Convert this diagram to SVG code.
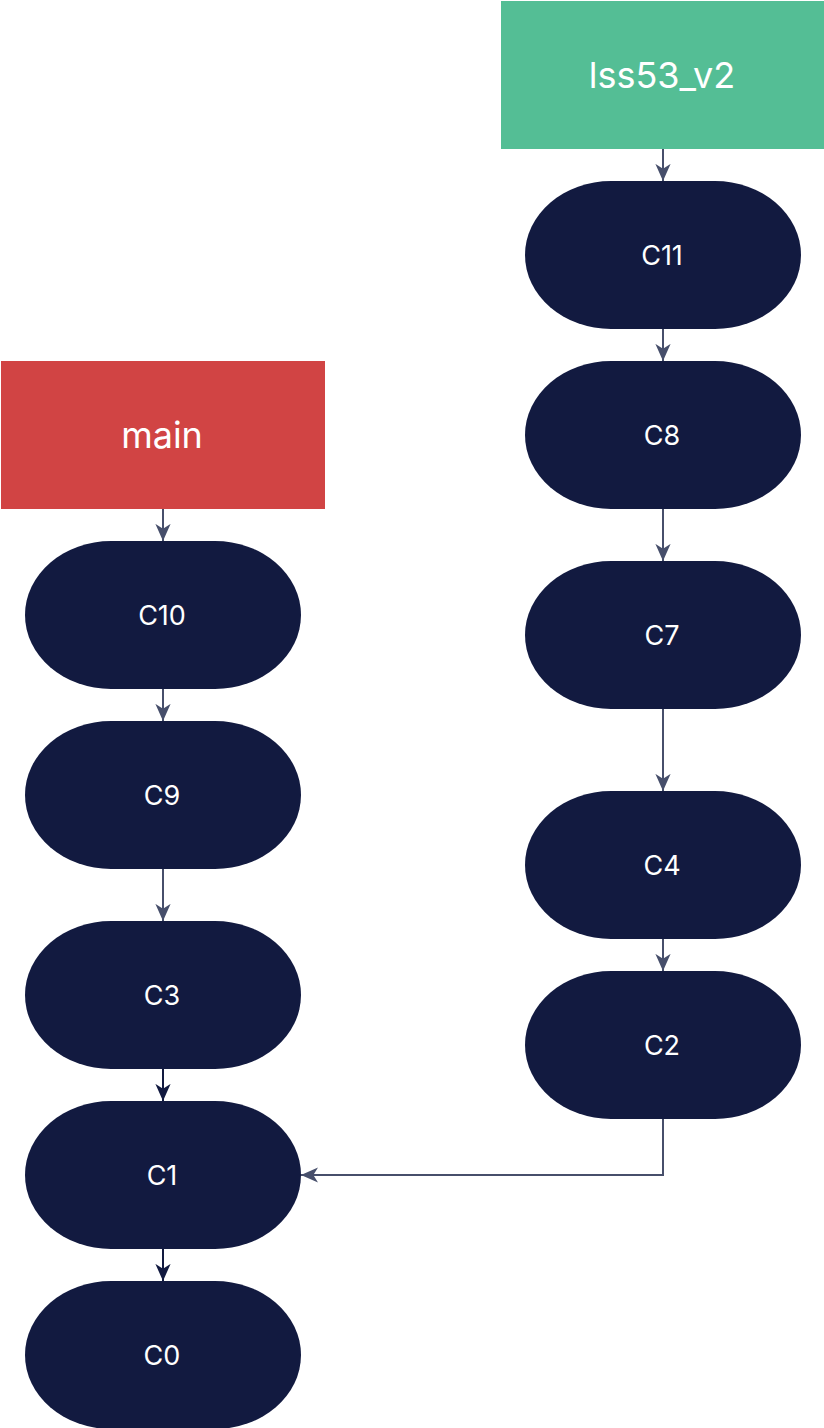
<svg xmlns="http://www.w3.org/2000/svg" width="824" height="1428" viewBox="0 0 824 1428">
<style>
.n{fill:#121a40}
.t{font-family:Inter,"Liberation Sans",sans-serif;font-size:27px;fill:#ffffff;text-anchor:middle;dominant-baseline:central}
.h{font-family:Inter,"Liberation Sans",sans-serif;font-size:36px;fill:#ffffff;text-anchor:middle;dominant-baseline:central}
.e{fill:none;stroke:#474f6b;stroke-width:2}
.d{fill:none;stroke:#121a40;stroke-width:2}
</style>
<defs>
<marker id="a" viewBox="0 0 20 20" refX="18" refY="10" markerWidth="19" markerHeight="19" markerUnits="userSpaceOnUse" orient="auto">
<path d="M0,2 L18,10 L0,18 L5,10 Z" fill="#474f6b"/>
</marker>
<marker id="b" viewBox="0 0 20 20" refX="18" refY="10" markerWidth="19" markerHeight="19" markerUnits="userSpaceOnUse" orient="auto">
<path d="M0,2 L18,10 L0,18 L5,10 Z" fill="#121a40"/>
</marker>
</defs>
<rect width="824" height="1428" fill="#ffffff"/>
<g id="edges">
<path class="e" d="M663,149 V181" marker-end="url(#a)"/>
<path class="e" d="M663,329 V361" marker-end="url(#a)"/>
<path class="e" d="M663,509 V561" marker-end="url(#a)"/>
<path class="e" d="M663,709 V791" marker-end="url(#a)"/>
<path class="e" d="M663,939 V971" marker-end="url(#a)"/>
<path class="e" d="M663,1119 V1175 H301" marker-end="url(#a)"/>
<path class="e" d="M163,509 V541" marker-end="url(#a)"/>
<path class="e" d="M163,689 V721" marker-end="url(#a)"/>
<path class="e" d="M163,869 V921" marker-end="url(#a)"/>
<path class="d" d="M163,1069 V1101" marker-end="url(#b)"/>
<path class="d" d="M163,1249 V1281" marker-end="url(#b)"/>
</g>
<g id="lss53_v2"><rect x="501" y="1" width="323" height="148" fill="#54be95"/><text class="h" x="662" y="75">lss53_v2</text></g>
<g id="main"><rect x="1" y="361" width="324" height="148" fill="#d14444"/><text class="h" x="162" y="435">main</text></g>
<g id="C11"><rect class="n" x="525" y="181" width="276" height="148" rx="86" ry="74"/><text class="t" x="662" y="255">C11</text></g>
<g id="C8"><rect class="n" x="525" y="361" width="276" height="148" rx="86" ry="74"/><text class="t" x="662" y="435">C8</text></g>
<g id="C7"><rect class="n" x="525" y="561" width="276" height="148" rx="86" ry="74"/><text class="t" x="662" y="635">C7</text></g>
<g id="C4"><rect class="n" x="525" y="791" width="276" height="148" rx="86" ry="74"/><text class="t" x="662" y="865">C4</text></g>
<g id="C2"><rect class="n" x="525" y="971" width="276" height="148" rx="86" ry="74"/><text class="t" x="662" y="1045">C2</text></g>
<g id="C10"><rect class="n" x="25" y="541" width="276" height="148" rx="86" ry="74"/><text class="t" x="162" y="615">C10</text></g>
<g id="C9"><rect class="n" x="25" y="721" width="276" height="148" rx="86" ry="74"/><text class="t" x="162" y="795">C9</text></g>
<g id="C3"><rect class="n" x="25" y="921" width="276" height="148" rx="86" ry="74"/><text class="t" x="162" y="995">C3</text></g>
<g id="C1"><rect class="n" x="25" y="1101" width="276" height="148" rx="86" ry="74"/><text class="t" x="162" y="1175">C1</text></g>
<g id="C0"><rect class="n" x="25" y="1281" width="276" height="148" rx="86" ry="74"/><text class="t" x="162" y="1355">C0</text></g>
</svg>
